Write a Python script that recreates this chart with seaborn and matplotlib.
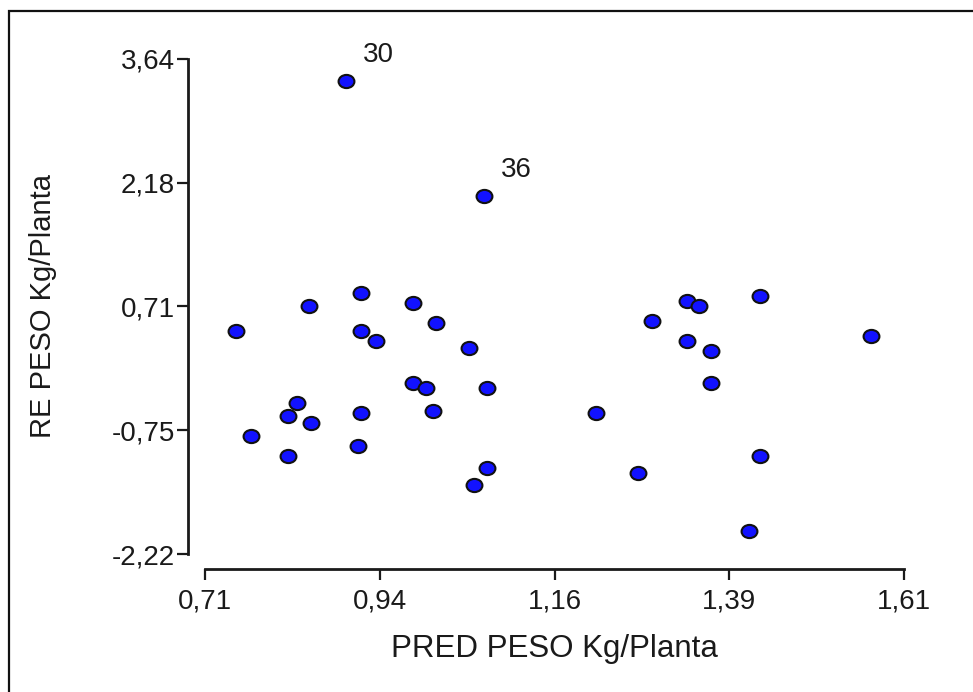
import numpy as np
import pandas as pd
import matplotlib
matplotlib.use("Agg")
import matplotlib.pyplot as plt
import seaborn as sns
from matplotlib.path import Path
from matplotlib.markers import MarkerStyle
from matplotlib.transforms import Affine2D
from matplotlib.patches import Rectangle

# ---- data ----
pred = [0.892, 1.069, 0.750, 0.844, 0.911, 0.911, 0.930, 0.978, 1.008, 1.050,
        1.286, 1.330, 1.346, 1.425, 1.330, 1.361, 1.567, 0.978, 0.994, 1.073,
        1.004, 0.911, 1.214, 1.361, 0.828, 0.817, 0.847, 0.769, 0.907, 0.817,
        1.425, 1.073, 1.056, 1.267, 1.410]
resid = [3.376, 2.016, 0.418, 0.718, 0.864, 0.422, 0.304, 0.746, 0.509, 0.214,
         0.537, 0.773, 0.714, 0.832, 0.304, 0.185, 0.363, -0.193, -0.260, -0.260,
         -0.525, -0.556, -0.556, -0.200, -0.437, -0.584, -0.674, -0.820, -0.939, -1.057,
         -1.057, -1.206, -1.404, -1.265, -1.944]
point_labels = {0: "30", 1: "36"}

x_range = [0.71, 1.61]
y_range = [-2.22, 3.64]
x_ticklabels = ["0,71", "0,94", "1,16", "1,39", "1,61"]
y_ticklabels = ["-2,22", "-0,75", "0,71", "2,18", "3,64"]
x_title = "PRED PESO Kg/Planta"
y_title = "RE PESO Kg/Planta"

df = pd.DataFrame({"pred": pred, "resid": resid})

sns.set_theme(style="white")
plt.rcParams["font.family"] = ["Liberation Sans", "DejaVu Sans"]
text_color = "#1a1a1a"

W, H = 973, 692
fig = plt.figure(figsize=(W / 100, H / 100), dpi=100)
ax = fig.add_axes([205 / W, (H - 554) / H, 699 / W, 495.3 / H])

ellipse = MarkerStyle(Path.unit_circle().transformed(Affine2D().scale(1.2, 1.0)))
sns.scatterplot(data=df, x="pred", y="resid", ax=ax, marker=ellipse, s=130,
                color="#1212ff", edgecolor="#111111", linewidth=1.5,
                clip_on=False, zorder=3, legend=False)

for i, lab in point_labels.items():
    ax.annotate(lab, (pred[i], resid[i]), xytext=(12, 14), textcoords="offset points",
                fontsize=20, color=text_color, ha="left", va="baseline")

ax.set_xlim(*x_range)
ax.set_ylim(*y_range)
ax.set_xticks(np.linspace(x_range[0], x_range[1], len(x_ticklabels)))
ax.set_xticklabels(x_ticklabels)
ax.set_yticks(np.linspace(y_range[0], y_range[1], len(y_ticklabels)))
ax.set_yticklabels(y_ticklabels)

for side in ["top", "right"]:
    ax.spines[side].set_visible(False)
ax.spines["left"].set_position(("outward", 12.2))
ax.spines["bottom"].set_position(("outward", 10.8))
for side in ["left", "bottom"]:
    ax.spines[side].set_visible(True)
    ax.spines[side].set_color(text_color)
    ax.spines[side].set_linewidth(2.0)

ax.tick_params(axis="both", which="major", direction="out", length=8, width=1.6,
               color=text_color, labelcolor=text_color, labelsize=20,
               left=True, bottom=True)
ax.tick_params(axis="y", pad=1.5)
ax.tick_params(axis="x", pad=6)

ax.set_xlabel(x_title, fontsize=22.5, color=text_color, labelpad=14)
ax.set_ylabel(y_title, fontsize=21, color=text_color)
ax.yaxis.set_label_coords(-0.212, 0.5)
ax.set_facecolor("white")

# figure border (clipped at right and bottom as in the reference)
fig.add_artist(Rectangle((9 / W, -0.05), 1.2, (H - 11) / H + 0.05,
                         transform=fig.transFigure, fill=False,
                         edgecolor="#111111", linewidth=1.6))

fig.savefig("out.png", dpi=100, facecolor="white")
